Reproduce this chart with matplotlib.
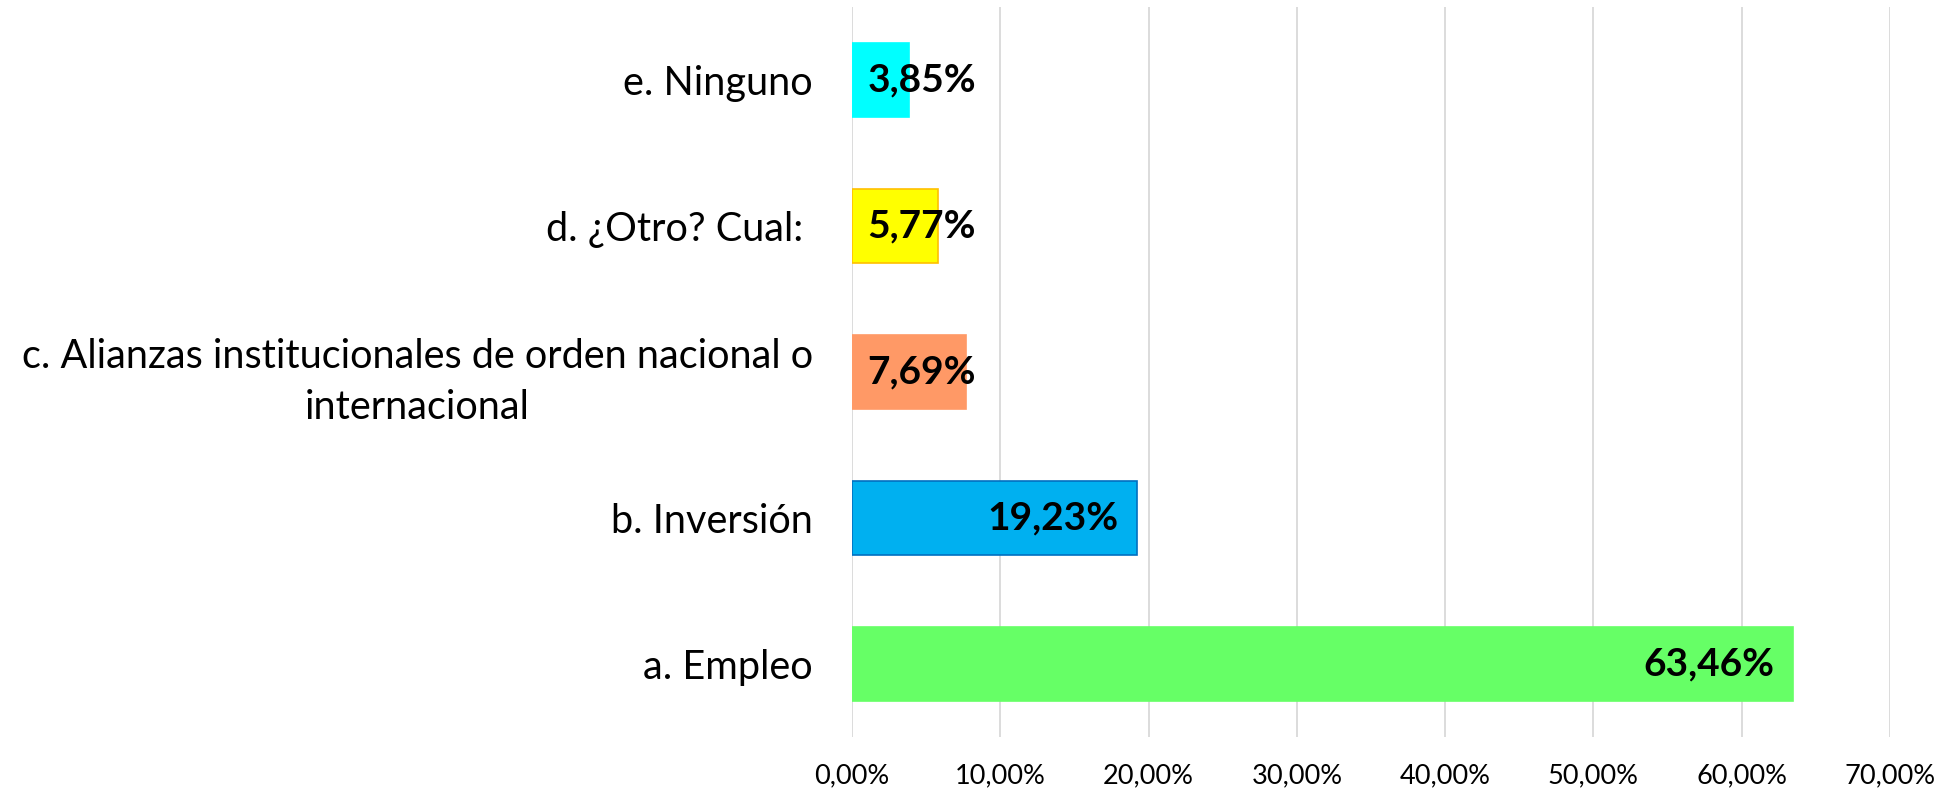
import matplotlib.pyplot as plt
from matplotlib.ticker import FuncFormatter

categories = [
    "a. Empleo",
    "b. Inversión",
    "c. Alianzas institucionales de orden nacional o\ninternacional",
    "d. ¿Otro? Cual: ",
    "e. Ninguno",
]
values = [63.46, 19.23, 7.69, 5.77, 3.85]
colors = ["#66FF66", "#00B0F0", "#FF9966", "#FFFF00", "#00FFFF"]
edges = ["#66FF66", "#0070C0", "#FF9966", "#FFC000", "#00FFFF"]
xticks = [0, 10, 20, 30, 40, 50, 60, 70]


def pct(v, pos=None):
    return "{:.2f}%".format(v).replace(".", ",")


def main():
    plt.rcParams["font.family"] = ["Lato", "DejaVu Sans"]

    fig = plt.figure(figsize=(19.43, 7.92), dpi=100)
    ax = fig.add_axes([852 / 1943, 1 - 737 / 792, 1038 / 1943, 730 / 792])

    ypos = list(range(len(categories)))
    ax.barh(ypos, values, height=0.51, color=colors, edgecolor=edges, linewidth=1.2, zorder=2)

    for y, v in zip(ypos, values):
        if v > 10:
            ax.annotate(pct(v), (v, y), xytext=(-13.5, 0), textcoords="offset points",
                        ha="right", va="center", fontsize=28, fontweight="bold", zorder=3)
        else:
            ax.annotate(pct(v), (0, y), xytext=(11, 0), textcoords="offset points",
                        ha="left", va="center", fontsize=28, fontweight="bold", zorder=3)

    ax.set_xlim(0, 70)
    ax.set_ylim(-0.5, len(categories) - 0.5)
    ax.set_xticks(xticks)
    ax.xaxis.set_major_formatter(FuncFormatter(pct))
    ax.set_yticks(ypos)
    ax.set_yticklabels(categories, fontsize=28.5, ha="right", multialignment="center",
                       linespacing=1.45)
    ax.tick_params(axis="x", length=0, labelsize=19.5, pad=19)
    ax.tick_params(axis="y", length=0, pad=28)
    ax.grid(axis="x", color="#D9D9D9", linewidth=1.3, zorder=0)
    ax.set_axisbelow(True)
    for s in ax.spines.values():
        s.set_visible(False)

    fig.savefig("out.png", dpi=100, facecolor="white")


if __name__ == "__main__":
    main()
